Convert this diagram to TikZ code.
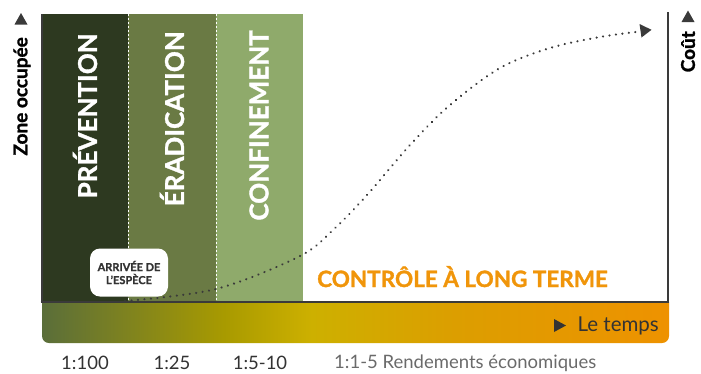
\documentclass[tikz,border=0pt]{standalone}
\usepackage{fontspec}
\setmainfont{Lato}[BoldFeatures={FakeBold=1.3}]
\usetikzlibrary{arrows.meta}
\definecolor{prevc}{HTML}{2D3920}
\definecolor{eradc}{HTML}{6A7A44}
\definecolor{confc}{HTML}{8FAA6B}
\definecolor{axisgrey}{HTML}{3A3A3A}
\definecolor{orangeT}{HTML}{F0950A}
\definecolor{gradL}{HTML}{5A6E3A}
\definecolor{gradA}{HTML}{A89A00}
\definecolor{gradB}{HTML}{CDB000}
\definecolor{gradC}{HTML}{DC9E00}
\definecolor{gradR}{HTML}{EE9200}
\definecolor{darktext}{HTML}{333333}
\definecolor{greytext}{HTML}{6A6A6A}
\pgfdeclarehorizontalshading{barshade}{100bp}{color(0bp)=(gradL); color(25bp)=(gradL); color(39.5bp)=(gradA); color(46.5bp)=(gradB); color(58bp)=(gradC); color(75bp)=(gradR); color(100bp)=(gradR)}
\tikzset{
  band/.style={anchor=north west, inner sep=0, outer sep=0, minimum height=288pt},
  bandtext/.style={rotate=90, anchor=east, inner sep=0, text=white, font=\bfseries\fontsize{26}{26}\selectfont},
  axisline/.style={draw=axisgrey, line width=2.6pt},
  tri/.style={fill=axisgrey},
  axislabel/.style={rotate=90, anchor=east, inner sep=0, font=\bfseries\fontsize{19}{19}\selectfont, text=black},
  ratio/.style={font=\fontsize{18.5}{18.5}\selectfont, text=darktext, inner sep=0},
  curve/.style={draw=axisgrey, line width=2.4pt, dash pattern=on 0.01pt off 6.5pt, line cap=round},
}
\begin{document}
\begin{tikzpicture}[x=1pt,y=-1pt]
\useasboundingbox (0,0) rectangle (701,373);
% bands
\node[band, fill=prevc, minimum width=86pt] (prev) at (42,14) {};
\node[band, fill=eradc, minimum width=88pt] (erad) at (128,14) {};
\node[band, fill=confc, minimum width=87pt] (conf) at (216,14) {};
\draw[white, line width=0.8pt, dash pattern=on 2pt off 2pt] (prev.north east) -- (prev.south east);
\draw[white, line width=0.8pt, dash pattern=on 2pt off 2pt] (erad.north east) -- (erad.south east);
\node[bandtext] (tprev) at (85,33) {PRÉVENTION};
\node[bandtext] (terad) at (172,31) {ÉRADICATION};
\node[bandtext] (tconf) at (259,30) {CONFINEMENT};
% bottom bar
\begin{scope}
\clip (42,302) rectangle (669,343);
\shade[shading=barshade, rounded corners=7pt] (42,290) rectangle (669,343);
\end{scope}
% axes
\coordinate (origin) at (42,302);
\coordinate (ltop) at (42,14);
\coordinate (rtop) at (668,12);
\coordinate (rbot) at (668,302);
\draw[axisline] (ltop) -- (origin);
\draw[axisline] (rtop) -- (rbot);
\draw[axisline] (40.7,302) -- (669.3,302);
% axis triangles
\fill[tri] (14.5,24.5) -- (27.5,24.5) -- (21,13) -- cycle;
\fill[tri] (681.5,22) -- (694.5,22) -- (688,10.5) -- cycle;
\node[axislabel] (zone) at (22,37) {Zone occupée};
\node[axislabel] (cout) at (688,31) {Coût};
% curve
\coordinate (ctip) at (651.5,29.8);
\draw[curve] plot[smooth, tension=0.55] coordinates {(125,301) (216,289) (300,256) (335,228) (367,195) (410,145) (450,105) (500,68) (550,48) (600,37) (640,31.5)};
\fill[tri] (ctip) -- (639.5,24) -- (641.5,37.5) -- cycle;
% arrival box
\node[fill=white, rounded corners=10pt, minimum width=78pt, minimum height=48pt, align=center, inner sep=0, text=darktext, font=\bfseries\fontsize{11}{13}\selectfont] (arr) at (129,272.5) {ARRIVÉE DE\\L’ESPÈCE};
% long term
\node[anchor=base west, inner sep=0, text=orangeT, font=\bfseries\fontsize{22.5}{22.5}\selectfont] (lt) at (317,287) {CONTRÔLE À LONG TERME};
% le temps
\fill[fill=darktext] (554,319) -- (554,332) -- (566,325.5) -- cycle;
\node[anchor=base east, inner sep=0, text=darktext, font=\fontsize{20.5}{20.5}\selectfont] (temps) at (659,331) {Le temps};
% ratios
\node[ratio] (r1) at (85,363) {1:100};
\node[ratio] (r2) at (172,363) {1:25};
\node[ratio] (r3) at (260,363) {1:5-10};
\node[ratio, anchor=west, text=greytext] (r4) at (334,363) {1:1-5 Rendements économiques};
\end{tikzpicture}
\end{document}
